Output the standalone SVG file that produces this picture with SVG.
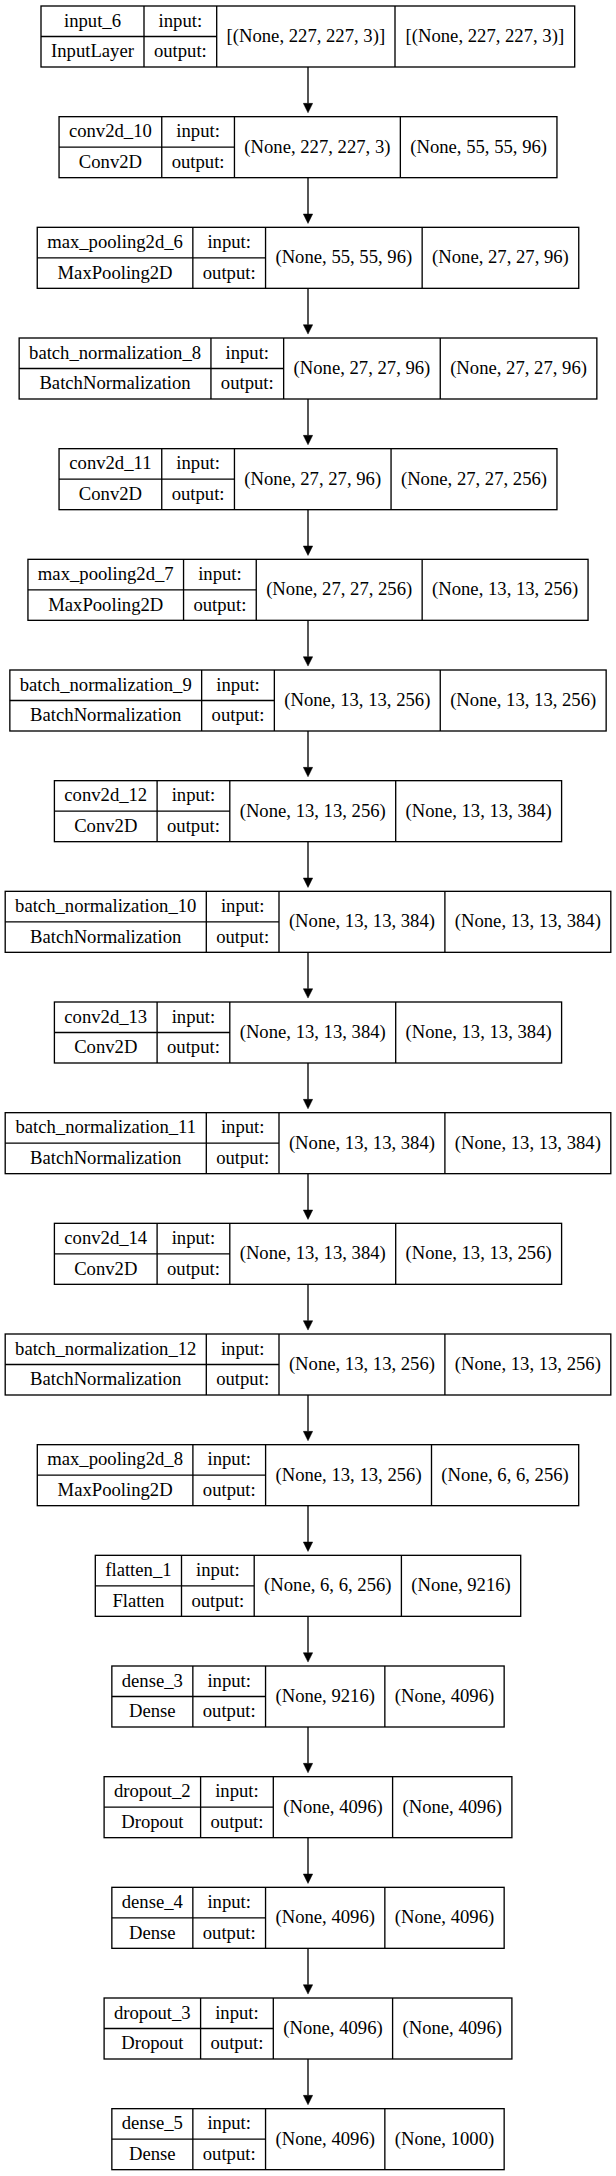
<svg xmlns="http://www.w3.org/2000/svg" width="616" height="2176" viewBox="0 0 616 2176" font-family="'Liberation Serif', 'Times New Roman', 'DejaVu Serif', serif" font-size="18.67">
<style>
.bg{fill:#ffffff}
.box{fill:#ffffff;stroke:#000;stroke-width:1.33}
.sep{stroke:#000;stroke-width:1.33;fill:none}
.edge{stroke:#000;stroke-width:1.33;fill:none}
.t{font-family:'Liberation Serif','Times New Roman','DejaVu Serif',serif;font-size:18.67px;fill:#000;text-anchor:middle}
</style>
<defs>
<marker id="arr" markerUnits="userSpaceOnUse" viewBox="0 0 10 10" refX="0" refY="5" markerWidth="13.3" markerHeight="9.4" orient="auto">
<path d="M0,0 L10,5 L0,10 Z" fill="#000" stroke="#000" stroke-width="0.5"/>
</marker>
</defs>
<rect class="bg" x="0" y="0" width="616" height="2176"/>
<g id="connectors">
<line class="edge" x1="308" y1="67" x2="308" y2="103.37" marker-end="url(#arr)"/>
<line class="edge" x1="308" y1="177.67" x2="308" y2="214.03" marker-end="url(#arr)"/>
<line class="edge" x1="308" y1="288.33" x2="308" y2="324.7" marker-end="url(#arr)"/>
<line class="edge" x1="308" y1="399" x2="308" y2="435.37" marker-end="url(#arr)"/>
<line class="edge" x1="308" y1="509.67" x2="308" y2="546.03" marker-end="url(#arr)"/>
<line class="edge" x1="308" y1="620.33" x2="308" y2="656.7" marker-end="url(#arr)"/>
<line class="edge" x1="308" y1="731" x2="308" y2="767.37" marker-end="url(#arr)"/>
<line class="edge" x1="308" y1="841.67" x2="308" y2="878.03" marker-end="url(#arr)"/>
<line class="edge" x1="308" y1="952.33" x2="308" y2="988.7" marker-end="url(#arr)"/>
<line class="edge" x1="308" y1="1063" x2="308" y2="1099.37" marker-end="url(#arr)"/>
<line class="edge" x1="308" y1="1173.67" x2="308" y2="1210.03" marker-end="url(#arr)"/>
<line class="edge" x1="308" y1="1284.33" x2="308" y2="1320.7" marker-end="url(#arr)"/>
<line class="edge" x1="308" y1="1395" x2="308" y2="1431.37" marker-end="url(#arr)"/>
<line class="edge" x1="308" y1="1505.67" x2="308" y2="1542.03" marker-end="url(#arr)"/>
<line class="edge" x1="308" y1="1616.33" x2="308" y2="1652.7" marker-end="url(#arr)"/>
<line class="edge" x1="308" y1="1727" x2="308" y2="1763.37" marker-end="url(#arr)"/>
<line class="edge" x1="308" y1="1837.67" x2="308" y2="1874.03" marker-end="url(#arr)"/>
<line class="edge" x1="308" y1="1948.33" x2="308" y2="1984.7" marker-end="url(#arr)"/>
<line class="edge" x1="308" y1="2059" x2="308" y2="2095.37" marker-end="url(#arr)"/>
</g>

<g id="input_6" transform="translate(0,6)">
<rect class="box" x="41" y="0" width="533.7" height="61"/>
<path class="sep" d="M144,0V61M216.7,0V61M395,0V61M41,30.5H216.7"/>
<text class="t" x="92.5" y="20.8">input_6</text><text class="t" x="92.5" y="51.3">InputLayer</text>
<text class="t" x="180.35" y="20.8">input:</text><text class="t" x="180.35" y="51.3">output:</text>
<text class="t" x="305.85" y="36">[(None, 227, 227, 3)]</text><text class="t" x="484.85" y="36">[(None, 227, 227, 3)]</text>
</g>

<g id="conv2d_10" transform="translate(0,116.67)">
<rect class="box" x="59.05" y="0" width="497.9" height="61"/>
<path class="sep" d="M161.75,0V61M234.45,0V61M400.35,0V61M59.05,30.5H234.45"/>
<text class="t" x="110.4" y="20.8">conv2d_10</text><text class="t" x="110.4" y="51.3">Conv2D</text>
<text class="t" x="198.1" y="20.8">input:</text><text class="t" x="198.1" y="51.3">output:</text>
<text class="t" x="317.4" y="36">(None, 227, 227, 3)</text><text class="t" x="478.65" y="36">(None, 55, 55, 96)</text>
</g>

<g id="max_pooling2d_6" transform="translate(0,227.33)">
<rect class="box" x="37.25" y="0" width="541.5" height="61"/>
<path class="sep" d="M192.85,0V61M265.55,0V61M422.15,0V61M37.25,30.5H265.55"/>
<text class="t" x="115.05" y="20.8">max_pooling2d_6</text><text class="t" x="115.05" y="51.3">MaxPooling2D</text>
<text class="t" x="229.2" y="20.8">input:</text><text class="t" x="229.2" y="51.3">output:</text>
<text class="t" x="343.85" y="36">(None, 55, 55, 96)</text><text class="t" x="500.45" y="36">(None, 27, 27, 96)</text>
</g>

<g id="batch_normalization_8" transform="translate(0,338)">
<rect class="box" x="19.15" y="0" width="577.7" height="61"/>
<path class="sep" d="M210.95,0V61M283.65,0V61M440.25,0V61M19.15,30.5H283.65"/>
<text class="t" x="115.05" y="20.8">batch_normalization_8</text><text class="t" x="115.05" y="51.3">BatchNormalization</text>
<text class="t" x="247.3" y="20.8">input:</text><text class="t" x="247.3" y="51.3">output:</text>
<text class="t" x="361.95" y="36">(None, 27, 27, 96)</text><text class="t" x="518.55" y="36">(None, 27, 27, 96)</text>
</g>

<g id="conv2d_11" transform="translate(0,448.67)">
<rect class="box" x="59.05" y="0" width="497.9" height="61"/>
<path class="sep" d="M161.75,0V61M234.45,0V61M391.05,0V61M59.05,30.5H234.45"/>
<text class="t" x="110.4" y="20.8">conv2d_11</text><text class="t" x="110.4" y="51.3">Conv2D</text>
<text class="t" x="198.1" y="20.8">input:</text><text class="t" x="198.1" y="51.3">output:</text>
<text class="t" x="312.75" y="36">(None, 27, 27, 96)</text><text class="t" x="474" y="36">(None, 27, 27, 256)</text>
</g>

<g id="max_pooling2d_7" transform="translate(0,559.33)">
<rect class="box" x="27.95" y="0" width="560.1" height="61"/>
<path class="sep" d="M183.55,0V61M256.25,0V61M422.15,0V61M27.95,30.5H256.25"/>
<text class="t" x="105.75" y="20.8">max_pooling2d_7</text><text class="t" x="105.75" y="51.3">MaxPooling2D</text>
<text class="t" x="219.9" y="20.8">input:</text><text class="t" x="219.9" y="51.3">output:</text>
<text class="t" x="339.2" y="36">(None, 27, 27, 256)</text><text class="t" x="505.1" y="36">(None, 13, 13, 256)</text>
</g>

<g id="batch_normalization_9" transform="translate(0,670)">
<rect class="box" x="9.85" y="0" width="596.3" height="61"/>
<path class="sep" d="M201.65,0V61M274.35,0V61M440.25,0V61M9.85,30.5H274.35"/>
<text class="t" x="105.75" y="20.8">batch_normalization_9</text><text class="t" x="105.75" y="51.3">BatchNormalization</text>
<text class="t" x="238" y="20.8">input:</text><text class="t" x="238" y="51.3">output:</text>
<text class="t" x="357.3" y="36">(None, 13, 13, 256)</text><text class="t" x="523.2" y="36">(None, 13, 13, 256)</text>
</g>

<g id="conv2d_12" transform="translate(0,780.67)">
<rect class="box" x="54.4" y="0" width="507.2" height="61"/>
<path class="sep" d="M157.1,0V61M229.8,0V61M395.7,0V61M54.4,30.5H229.8"/>
<text class="t" x="105.75" y="20.8">conv2d_12</text><text class="t" x="105.75" y="51.3">Conv2D</text>
<text class="t" x="193.45" y="20.8">input:</text><text class="t" x="193.45" y="51.3">output:</text>
<text class="t" x="312.75" y="36">(None, 13, 13, 256)</text><text class="t" x="478.65" y="36">(None, 13, 13, 384)</text>
</g>

<g id="batch_normalization_10" transform="translate(0,891.33)">
<rect class="box" x="5.2" y="0" width="605.6" height="61"/>
<path class="sep" d="M206.3,0V61M279,0V61M444.9,0V61M5.2,30.5H279"/>
<text class="t" x="105.75" y="20.8">batch_normalization_10</text><text class="t" x="105.75" y="51.3">BatchNormalization</text>
<text class="t" x="242.65" y="20.8">input:</text><text class="t" x="242.65" y="51.3">output:</text>
<text class="t" x="361.95" y="36">(None, 13, 13, 384)</text><text class="t" x="527.85" y="36">(None, 13, 13, 384)</text>
</g>

<g id="conv2d_13" transform="translate(0,1002)">
<rect class="box" x="54.4" y="0" width="507.2" height="61"/>
<path class="sep" d="M157.1,0V61M229.8,0V61M395.7,0V61M54.4,30.5H229.8"/>
<text class="t" x="105.75" y="20.8">conv2d_13</text><text class="t" x="105.75" y="51.3">Conv2D</text>
<text class="t" x="193.45" y="20.8">input:</text><text class="t" x="193.45" y="51.3">output:</text>
<text class="t" x="312.75" y="36">(None, 13, 13, 384)</text><text class="t" x="478.65" y="36">(None, 13, 13, 384)</text>
</g>

<g id="batch_normalization_11" transform="translate(0,1112.67)">
<rect class="box" x="5.2" y="0" width="605.6" height="61"/>
<path class="sep" d="M206.3,0V61M279,0V61M444.9,0V61M5.2,30.5H279"/>
<text class="t" x="105.75" y="20.8">batch_normalization_11</text><text class="t" x="105.75" y="51.3">BatchNormalization</text>
<text class="t" x="242.65" y="20.8">input:</text><text class="t" x="242.65" y="51.3">output:</text>
<text class="t" x="361.95" y="36">(None, 13, 13, 384)</text><text class="t" x="527.85" y="36">(None, 13, 13, 384)</text>
</g>

<g id="conv2d_14" transform="translate(0,1223.33)">
<rect class="box" x="54.4" y="0" width="507.2" height="61"/>
<path class="sep" d="M157.1,0V61M229.8,0V61M395.7,0V61M54.4,30.5H229.8"/>
<text class="t" x="105.75" y="20.8">conv2d_14</text><text class="t" x="105.75" y="51.3">Conv2D</text>
<text class="t" x="193.45" y="20.8">input:</text><text class="t" x="193.45" y="51.3">output:</text>
<text class="t" x="312.75" y="36">(None, 13, 13, 384)</text><text class="t" x="478.65" y="36">(None, 13, 13, 256)</text>
</g>

<g id="batch_normalization_12" transform="translate(0,1334)">
<rect class="box" x="5.2" y="0" width="605.6" height="61"/>
<path class="sep" d="M206.3,0V61M279,0V61M444.9,0V61M5.2,30.5H279"/>
<text class="t" x="105.75" y="20.8">batch_normalization_12</text><text class="t" x="105.75" y="51.3">BatchNormalization</text>
<text class="t" x="242.65" y="20.8">input:</text><text class="t" x="242.65" y="51.3">output:</text>
<text class="t" x="361.95" y="36">(None, 13, 13, 256)</text><text class="t" x="527.85" y="36">(None, 13, 13, 256)</text>
</g>

<g id="max_pooling2d_8" transform="translate(0,1444.67)">
<rect class="box" x="37.3" y="0" width="541.4" height="61"/>
<path class="sep" d="M192.9,0V61M265.6,0V61M431.5,0V61M37.3,30.5H265.6"/>
<text class="t" x="115.1" y="20.8">max_pooling2d_8</text><text class="t" x="115.1" y="51.3">MaxPooling2D</text>
<text class="t" x="229.25" y="20.8">input:</text><text class="t" x="229.25" y="51.3">output:</text>
<text class="t" x="348.55" y="36">(None, 13, 13, 256)</text><text class="t" x="505.1" y="36">(None, 6, 6, 256)</text>
</g>

<g id="flatten_1" transform="translate(0,1555.33)">
<rect class="box" x="95.3" y="0" width="425.4" height="61"/>
<path class="sep" d="M181.5,0V61M254.2,0V61M401.4,0V61M95.3,30.5H254.2"/>
<text class="t" x="138.4" y="20.8">flatten_1</text><text class="t" x="138.4" y="51.3">Flatten</text>
<text class="t" x="217.85" y="20.8">input:</text><text class="t" x="217.85" y="51.3">output:</text>
<text class="t" x="327.8" y="36">(None, 6, 6, 256)</text><text class="t" x="461.05" y="36">(None, 9216)</text>
</g>

<g id="dense_3" transform="translate(0,1666)">
<rect class="box" x="111.85" y="0" width="392.3" height="61"/>
<path class="sep" d="M192.85,0V61M265.55,0V61M384.85,0V61M111.85,30.5H265.55"/>
<text class="t" x="152.35" y="20.8">dense_3</text><text class="t" x="152.35" y="51.3">Dense</text>
<text class="t" x="229.2" y="20.8">input:</text><text class="t" x="229.2" y="51.3">output:</text>
<text class="t" x="325.2" y="36">(None, 9216)</text><text class="t" x="444.5" y="36">(None, 4096)</text>
</g>

<g id="dropout_2" transform="translate(0,1776.67)">
<rect class="box" x="104.1" y="0" width="407.8" height="61"/>
<path class="sep" d="M200.6,0V61M273.3,0V61M392.6,0V61M104.1,30.5H273.3"/>
<text class="t" x="152.35" y="20.8">dropout_2</text><text class="t" x="152.35" y="51.3">Dropout</text>
<text class="t" x="236.95" y="20.8">input:</text><text class="t" x="236.95" y="51.3">output:</text>
<text class="t" x="332.95" y="36">(None, 4096)</text><text class="t" x="452.25" y="36">(None, 4096)</text>
</g>

<g id="dense_4" transform="translate(0,1887.33)">
<rect class="box" x="111.85" y="0" width="392.3" height="61"/>
<path class="sep" d="M192.85,0V61M265.55,0V61M384.85,0V61M111.85,30.5H265.55"/>
<text class="t" x="152.35" y="20.8">dense_4</text><text class="t" x="152.35" y="51.3">Dense</text>
<text class="t" x="229.2" y="20.8">input:</text><text class="t" x="229.2" y="51.3">output:</text>
<text class="t" x="325.2" y="36">(None, 4096)</text><text class="t" x="444.5" y="36">(None, 4096)</text>
</g>

<g id="dropout_3" transform="translate(0,1998)">
<rect class="box" x="104.1" y="0" width="407.8" height="61"/>
<path class="sep" d="M200.6,0V61M273.3,0V61M392.6,0V61M104.1,30.5H273.3"/>
<text class="t" x="152.35" y="20.8">dropout_3</text><text class="t" x="152.35" y="51.3">Dropout</text>
<text class="t" x="236.95" y="20.8">input:</text><text class="t" x="236.95" y="51.3">output:</text>
<text class="t" x="332.95" y="36">(None, 4096)</text><text class="t" x="452.25" y="36">(None, 4096)</text>
</g>

<g id="dense_5" transform="translate(0,2108.67)">
<rect class="box" x="111.85" y="0" width="392.3" height="61"/>
<path class="sep" d="M192.85,0V61M265.55,0V61M384.85,0V61M111.85,30.5H265.55"/>
<text class="t" x="152.35" y="20.8">dense_5</text><text class="t" x="152.35" y="51.3">Dense</text>
<text class="t" x="229.2" y="20.8">input:</text><text class="t" x="229.2" y="51.3">output:</text>
<text class="t" x="325.2" y="36">(None, 4096)</text><text class="t" x="444.5" y="36">(None, 1000)</text>
</g>
</svg>
